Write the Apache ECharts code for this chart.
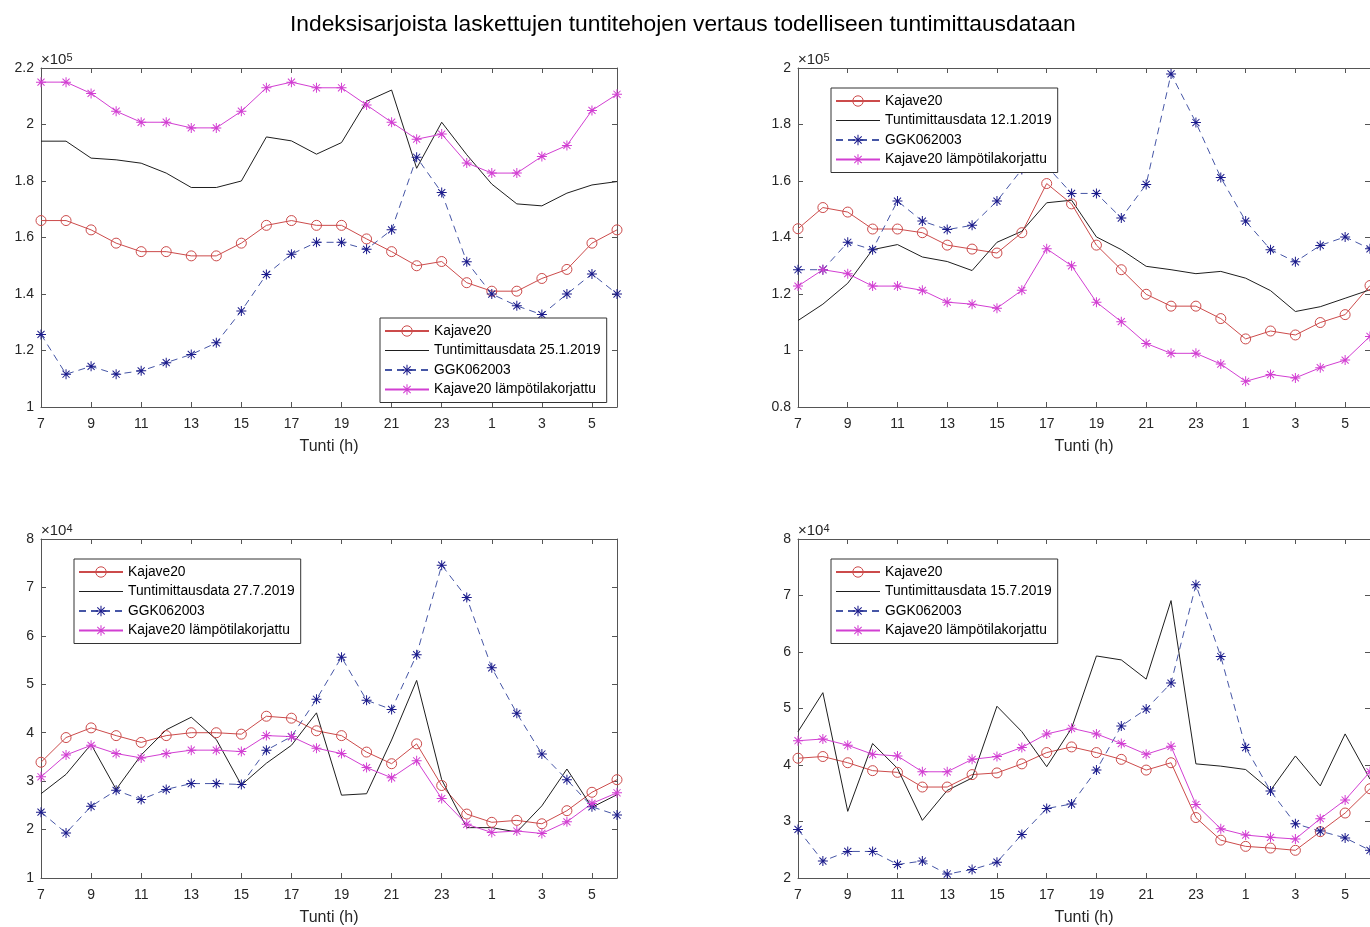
<!DOCTYPE html>
<html>
<head>
<meta charset="utf-8">
<script src="https://cdn.jsdelivr.net/npm/echarts@6/dist/echarts.min.js"></script>
<style>
html,body{margin:0;padding:0;background:#fff;}
#chart{width:1370px;height:927px;}
</style>
</head>
<body>
<div id="chart"></div>
<script>
// ---- Data ----
const hours = ['7','8','9','10','11','12','13','14','15','16','17','18','19','20','21','22','23','0','1','2','3','4','5','6'];

// Plot 1 (25.1.2019)
const k20_jan25  = [166000,166000,162700,158000,155000,155000,153500,153500,158000,164300,166000,164300,164300,159500,155000,150000,151500,144000,141000,141000,145500,148700,158000,162700];
const meas_jan25 = [194100,194100,188100,187500,186300,182800,177700,177700,180000,195600,194200,189500,193600,208200,212200,184500,200800,189300,178900,171900,171200,175700,178600,179800];
const ggk_jan25  = [125700,111600,114400,111600,112800,115700,118600,122700,134000,146900,154100,158300,158300,155800,162700,188400,175900,151400,140000,135800,132700,140000,147100,140000];
const k20t_jan25 = [215000,215000,211000,204700,200800,200800,198800,198800,204700,213000,215000,213000,213000,206900,200800,194800,196600,186400,182800,182800,188700,192600,205000,210700];

// Plot 2 (12.1.2019)
const k20_jan12  = [143100,150600,149000,143000,143000,141700,137300,135900,134500,141700,159100,151900,137300,128600,119900,115700,115700,111300,104100,106900,105500,109900,112700,123000];
const meas_jan12 = [110600,116400,123800,135700,137500,133100,131500,128300,138300,142200,152300,153200,140200,135700,129800,128600,127200,128000,125600,121200,113800,115500,118500,121500];
const ggk_jan12  = [128600,128600,138300,135700,152900,145800,142800,144300,152900,164100,165300,155600,155600,146900,158800,197900,180700,161200,145800,135700,131400,137200,140200,136000];
const k20t_jan12 = [122800,128600,127200,122800,122800,121300,117100,116400,115000,121300,136000,130000,117100,110200,102500,99000,99000,95200,89100,91500,90300,93900,96600,105000];

// Plot 3 (27.7.2019)
const k20_jul27  = [33900,39000,41000,39400,38000,39400,40000,40000,39700,43400,43000,40400,39400,36000,33600,37700,29100,23200,21500,21900,21200,23900,27700,30300];
const meas_jul27 = [27400,31400,37600,28300,35400,40600,43200,38600,29200,33700,37400,44100,27100,27400,38500,50800,30300,20400,20400,19500,24900,32500,24600,27200];
const ggk_jul27  = [23600,19300,24800,28100,26200,28300,29500,29500,29300,36400,39200,46900,55600,46700,44800,56100,74600,67900,53400,44000,35600,30300,24700,23000];
const k20t_jul27 = [30900,35400,37400,35700,34800,35700,36400,36400,36100,39400,39200,36800,35700,32800,30700,34200,26400,21100,19400,19700,19200,21600,25400,27600];

// Plot 4 (15.7.2019)
const k20_jul15  = [41200,41500,40400,39000,38700,36100,36100,38300,38600,40200,42200,43200,42200,41000,39100,40400,30700,26700,25600,25300,24900,28200,31500,35800];
const meas_jul15 = [45900,52800,31800,43800,39400,30200,35500,37700,50400,45900,39700,46500,59300,58600,55200,69100,40200,39800,39200,35500,41600,36300,45500,37500];
const ggk_jul15  = [28600,23000,24700,24700,22400,23000,20700,21500,22800,27700,32300,33100,39100,46900,49900,54500,71900,59200,43100,35400,29600,28300,27100,24900];
const k20t_jul15 = [44300,44600,43500,41900,41600,38800,38800,41000,41500,43100,45500,46500,45500,43800,41900,43300,33000,28700,27600,27200,26900,30500,33800,38800];

const titleText = 'Indeksisarjoista laskettujen tuntitehojen vertaus todelliseen tuntimittausdataan';
const xName = 'Tunti (h)';
const nameK20 = 'Kajave20';
const nameGGK = 'GGK062003';
const nameK20T = 'Kajave20 lämpötilakorjattu';
const measNames = ['Tuntimittausdata 25.1.2019','Tuntimittausdata 12.1.2019','Tuntimittausdata 27.7.2019','Tuntimittausdata 15.7.2019'];

// ---- Layout / style ----
const FONT = 'Liberation Sans, Arial, Helvetica, sans-serif';
const AX = '#555555';
const LBL = '#262626';
const C_RED = '#cc4b4b';
const C_BLK = '#1e1e1e';
const C_BLUE_L = '#4656a6';
const C_BLUE_M = '#1c1c8c';
const C_MAG = '#d23fd2';
const STAR = 'path://M-1,-10L1,-10L1,10L-1,10Z M-10,-1L10,-1L10,1L-10,1Z M-7.78,-6.36L-6.36,-7.78L7.78,6.36L6.36,7.78Z M6.36,-7.78L7.78,-6.36L-6.36,7.78L-7.78,6.36Z';
const LINE_ICON = 'path://M0,0L44,0L44,1L0,1Z';

const panels = [
  {grid:{left:41, top:68, width:576, height:339}, min:100000, max:220000, step:20000, exp:5, scale:1e5,
   data:[k20_jan25, meas_jan25, ggk_jan25, k20t_jan25], legend:{left:380, top:318}},
  {grid:{left:798, top:68, width:577, height:339}, min:80000, max:200000, step:20000, exp:5, scale:1e5,
   data:[k20_jan12, meas_jan12, ggk_jan12, k20t_jan12], legend:{left:831, top:88}},
  {grid:{left:41, top:539, width:576, height:339}, min:10000, max:80000, step:10000, exp:4, scale:1e4,
   data:[k20_jul27, meas_jul27, ggk_jul27, k20t_jul27], legend:{left:74, top:559}},
  {grid:{left:798, top:539, width:577, height:339}, min:20000, max:80000, step:10000, exp:4, scale:1e4,
   data:[k20_jul15, meas_jul15, ggk_jul15, k20t_jul15], legend:{left:831, top:559}}
];

const grids = [], xAxes = [], yAxes = [], series = [], legends = [];
panels.forEach((p, i) => {
  grids.push(Object.assign({containLabel:false}, p.grid));
  const lineAx = {show:true, lineStyle:{color:AX, width:1}};
  xAxes.push({type:'category', gridIndex:i, data:hours, boundaryGap:false, position:'bottom',
    axisLine:lineAx, axisTick:{show:true, inside:true, length:5, interval:1, lineStyle:{color:AX}},
    axisLabel:{interval:1, color:LBL, fontSize:14, fontFamily:FONT, margin:10},
    splitLine:{show:false},
    name:xName, nameLocation:'middle', nameGap:32, nameTextStyle:{color:LBL, fontSize:16, fontFamily:FONT}});
  xAxes.push({type:'category', gridIndex:i, data:hours, boundaryGap:false, position:'top',
    axisLine:lineAx, axisTick:{show:true, inside:true, length:5, interval:1, lineStyle:{color:AX}},
    axisLabel:{show:false}, splitLine:{show:false}});
  const sc = p.scale;
  yAxes.push({type:'value', gridIndex:i, min:p.min, max:p.max, interval:p.step, position:'left',
    axisLine:lineAx, axisTick:{show:true, inside:true, length:5, lineStyle:{color:AX}},
    axisLabel:{color:LBL, fontSize:14, fontFamily:FONT, margin:7,
      formatter: v => String(+(v/sc).toFixed(2))},
    splitLine:{show:false},
    name:'{m|×10}{s|' + p.exp + '}', nameLocation:'end', nameGap:1,
    nameTextStyle:{align:'left', verticalAlign:'bottom', color:LBL, fontFamily:FONT,
      rich:{m:{fontSize:15, color:LBL, fontFamily:FONT, verticalAlign:'bottom'},
            s:{fontSize:11, color:LBL, fontFamily:FONT, verticalAlign:'top', padding:[0,0,4,0]}}}});
  yAxes.push({type:'value', gridIndex:i, min:p.min, max:p.max, interval:p.step, position:'right',
    axisLine:lineAx, axisTick:{show:true, inside:true, length:5, lineStyle:{color:AX}},
    axisLabel:{show:false}, splitLine:{show:false}});

  const xi = i*2, yi = i*2;
  series.push({name:nameK20, type:'line', xAxisIndex:xi, yAxisIndex:yi, data:p.data[0],
    symbol:'circle', symbolSize:10, showAllSymbol:true,
    lineStyle:{color:C_RED, width:1}, itemStyle:{color:'rgba(255,255,255,0)', borderColor:C_RED, borderWidth:1}});
  series.push({name:measNames[i], type:'line', xAxisIndex:xi, yAxisIndex:yi, data:p.data[1],
    symbol:'none', lineStyle:{color:C_BLK, width:1}, itemStyle:{color:C_BLK}});
  series.push({name:nameGGK, type:'line', xAxisIndex:xi, yAxisIndex:yi, data:p.data[2],
    symbol:STAR, symbolSize:10, showAllSymbol:true,
    lineStyle:{color:C_BLUE_L, width:1, type:[7,5]}, itemStyle:{color:C_BLUE_M, borderWidth:0}});
  series.push({name:nameK20T, type:'line', xAxisIndex:xi, yAxisIndex:yi, data:p.data[3],
    symbol:STAR, symbolSize:10, showAllSymbol:true,
    lineStyle:{color:C_MAG, width:1}, itemStyle:{color:C_MAG, borderWidth:0}});

  legends.push({orient:'vertical', left:p.legend.left, top:p.legend.top,
    data:[nameK20, {name:measNames[i], icon:LINE_ICON}, nameGGK, nameK20T],
    backgroundColor:'#fff', borderColor:'#333', borderWidth:1, borderRadius:0,
    padding:[6,6,6,4], itemGap:5.5, itemWidth:44, itemHeight:13, selectedMode:false,
    itemStyle:{borderWidth:1},
    textStyle:{color:'#000', fontSize:13.8, fontFamily:FONT}});
});

const chart = echarts.init(document.getElementById('chart'), null, {renderer:'canvas'});
chart.setOption({
  animation:false,
  backgroundColor:'#fff',
  title:{text:titleText, left:285, top:8,
    textStyle:{color:'#000', fontSize:22.8, fontWeight:'normal', fontFamily:FONT}},
  grid:grids, xAxis:xAxes, yAxis:yAxes, series:series, legend:legends
});
</script>
</body>
</html>
